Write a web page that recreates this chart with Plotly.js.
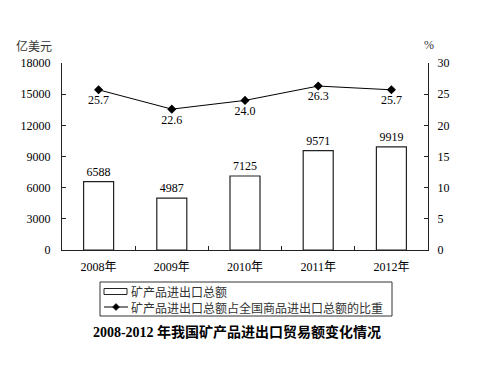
<!DOCTYPE html>
<html>
<head>
<meta charset="utf-8">
<script src="https://cdn.plot.ly/plotly-3.0.1.min.js"></script>
<style>html,body{margin:0;padding:0;background:#fff;}#chart{width:481px;height:392px;}</style>
</head>
<body>
<div id="chart"></div>
<script>
var years = ["2008年", "2009年", "2010年", "2011年", "2012年"];
var tradeValue = [6588, 4987, 7125, 9571, 9919];
var sharePct = [25.7, 22.6, 24.0, 26.3, 25.7];
var barName = "矿产品进出口总额";
var lineName = "矿产品进出口总额占全国商品进出口总额的比重";
var leftTicks = [0, 3000, 6000, 9000, 12000, 15000, 18000];
var rightTicks = [0, 5, 10, 15, 20, 25, 30];

var serif = "'Liberation Serif', 'DejaVu Serif', 'Noto Sans CJK SC', serif";
var cjk = "'Noto Sans CJK SC', serif";

// plot area in pixels: x 62..428, y 63..250
function px(x) { return (x - 62) / 366; }
function py(y) { return (250 - y) / 187; }

var traces = [
  {
    type: "bar",
    name: barName,
    x: years,
    y: tradeValue,
    text: tradeValue.map(String),
    textposition: "outside",
    cliponaxis: false,
    textfont: {family: serif, size: 12, color: "#000"},
    marker: {color: "#fff", line: {color: "#222", width: 1.2}},
    hoverinfo: "skip"
  },
  {
    type: "scatter",
    mode: "lines+markers+text",
    name: lineName,
    x: years,
    y: sharePct,
    yaxis: "y2",
    text: sharePct.map(function(v){return v.toFixed(1);}),
    textposition: "bottom center",
    cliponaxis: false,
    textfont: {family: serif, size: 12, color: "#000"},
    line: {color: "#000", width: 1},
    marker: {symbol: "diamond", size: 7, color: "#000"},
    hoverinfo: "skip"
  }
];

var row1 = 291.5, row2 = 307;

// manual legend (box, icons) drawn as shapes, labels as one annotation
var shapes = [
  {type: "rect", xref: "paper", yref: "paper", x0: px(100), x1: px(392), y0: py(282), y1: py(316),
   line: {color: "#333", width: 1}, fillcolor: "#fff", layer: "above"},
  {type: "rect", xref: "paper", yref: "paper", x0: px(104), x1: px(127), y0: py(row1 - 3), y1: py(row1 + 3),
   line: {color: "#222", width: 1}, fillcolor: "#fff", layer: "above"},
  {type: "line", xref: "paper", yref: "paper", x0: px(104), x1: px(128), y0: py(row2), y1: py(row2),
   line: {color: "#000", width: 1}, layer: "above"},
  {type: "path", xref: "paper", yref: "paper", layer: "above",
   path: "M " + px(116) + " " + py(row2 - 3.5) + " L " + px(119.5) + " " + py(row2) + " L " + px(116) + " " + py(row2 + 3.5) +
         " L " + px(112.5) + " " + py(row2) + " Z",
   fillcolor: "#000", line: {color: "#000", width: 0.5}}
];

var annotations = [
  {text: "亿美元", xref: "paper", yref: "paper", x: px(34), y: py(45), xanchor: "center", yanchor: "middle",
   showarrow: false, font: {family: cjk, size: 12, color: "#333"}},
  {text: "%", xref: "paper", yref: "paper", x: px(429), y: py(45), xanchor: "center", yanchor: "middle",
   showarrow: false, font: {family: serif, size: 12, color: "#333"}},
  {text: barName + "<br>" + lineName, xref: "paper", yref: "paper", x: px(130), y: py((row1 + row2) / 2),
   xanchor: "left", yanchor: "middle", align: "left", borderpad: 0,
   showarrow: false, font: {family: cjk, size: 12, color: "#333"}}
];

var layout = {
  width: 481, height: 392,
  margin: {l: 62, r: 53, t: 63, b: 142},
  paper_bgcolor: "#fff", plot_bgcolor: "#fff",
  font: {family: serif, size: 12, color: "#000"},
  bargap: 0.59,
  showlegend: false,
  title: {
    text: "<b>2008-2012 年我国矿产品进出口贸易额变化情况</b>",
    font: {family: serif, size: 14, color: "#000"},
    x: px(237), xanchor: "center", xref: "paper",
    y: (392 - 332) / 392, yanchor: "middle", yref: "container"
  },
  xaxis: {
    type: "category",
    showline: true, linecolor: "#222", linewidth: 1.2,
    ticks: "inside", ticklen: 4, tickcolor: "#222",
    tickson: "boundaries",
    showgrid: false, zeroline: false,
    tickfont: {family: serif, size: 12, color: "#000"},
    ticklabelstandoff: 5
  },
  yaxis: {
    range: [0, 18000],
    tickvals: leftTicks,
    ticktext: leftTicks.map(String),
    showline: true, linecolor: "#222", linewidth: 1.2,
    ticks: "inside", ticklen: 4, tickcolor: "#222",
    showgrid: false, zeroline: false,
    tickfont: {family: serif, size: 12, color: "#000"},
    ticklabelstandoff: 8
  },
  yaxis2: {
    range: [0, 30],
    tickvals: rightTicks,
    overlaying: "y", side: "right",
    showline: true, linecolor: "#222", linewidth: 1.2,
    ticks: "inside", ticklen: 4, tickcolor: "#222",
    showgrid: false, zeroline: false,
    tickfont: {family: serif, size: 12, color: "#000"},
    ticklabelstandoff: 6
  },
  shapes: shapes,
  annotations: annotations
};

Plotly.newPlot("chart", traces, layout, {displayModeBar: false, staticPlot: true});
</script>
</body>
</html>
